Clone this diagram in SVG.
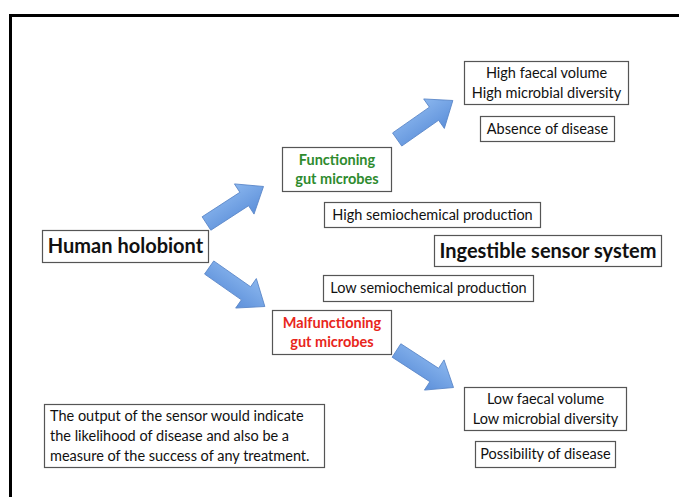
<svg xmlns="http://www.w3.org/2000/svg" width="679" height="497" viewBox="0 0 679 497">
<defs>
<linearGradient id="blue" x1="0" y1="0" x2="0" y2="1">
<stop offset="0" stop-color="#8ab6ee"/>
<stop offset="1" stop-color="#5d90da"/>
</linearGradient>
<path id="arr" d="M-34,-8 L11,-8 L11,-18 L34,0 L11,18 L11,8 L-34,8 Z"/>
</defs>
<style>
.box{fill:#fff;stroke:#555;stroke-width:1.2}
.t{font-family:Lato,"Open Sans","Liberation Sans",sans-serif;font-size:14.5px;fill:#111;text-anchor:middle}
.b{font-weight:bold;font-size:20px}
.g{font-weight:bold;fill:#2e8b2e;font-size:14.5px}
.r{font-weight:bold;fill:#e8261c;font-size:14.5px}
.l{text-anchor:start}
.a{fill:url(#blue);stroke:#5a86c8;stroke-width:0.8}
</style>
<rect width="679" height="497" fill="#fff"/>
<path d="M10.5,497 V15.5 H679" fill="none" stroke="#000" stroke-width="3"/>
<g id="connectors">
<use href="#arr" class="a" transform="translate(235,205) rotate(-33)"/>
<use href="#arr" class="a" transform="translate(425,120) rotate(-35)"/>
<use href="#arr" class="a" transform="translate(237,287) rotate(35)"/>
<use href="#arr" class="a" transform="translate(425,369) rotate(33)"/>
</g>
<g id="holobiont"><rect class="box" x="42.5" y="230.5" width="166" height="32"/><text class="t b" x="125.5" y="253">Human holobiont</text></g>
<g id="functioning"><rect class="box" x="282.5" y="147.5" width="109" height="44"/><text class="t g" x="337" y="165">Functioning</text><text class="t g" x="337" y="184">gut microbes</text></g>
<g id="high-faecal"><rect class="box" x="464.5" y="61.5" width="164" height="43"/><text class="t" x="546.5" y="78">High faecal volume</text><text class="t" x="546.5" y="98">High microbial diversity</text></g>
<g id="absence"><rect class="box" x="480.5" y="116.5" width="134" height="25"/><text class="t" x="547.5" y="134">Absence of disease</text></g>
<g id="high-semio"><rect class="box" x="324.5" y="202.5" width="216" height="25"/><text class="t" x="432.5" y="220">High semiochemical production</text></g>
<g id="sensor"><rect class="box" x="434.5" y="235.5" width="227" height="31"/><text class="t b" x="548" y="258">Ingestible sensor system</text></g>
<g id="low-semio"><rect class="box" x="323.5" y="275.5" width="210" height="26"/><text class="t" x="428.5" y="293">Low semiochemical production</text></g>
<g id="malfunctioning"><rect class="box" x="272.5" y="310.5" width="119" height="44"/><text class="t r" x="332" y="328">Malfunctioning</text><text class="t r" x="332" y="347">gut microbes</text></g>
<g id="low-faecal"><rect class="box" x="464.5" y="387.5" width="162" height="43"/><text class="t" x="545.5" y="404">Low faecal volume</text><text class="t" x="545.5" y="424">Low microbial diversity</text></g>
<g id="possibility"><rect class="box" x="475.5" y="441.5" width="140" height="26"/><text class="t" x="545.5" y="459">Possibility of disease</text></g>
<g id="note"><rect class="box" x="44.5" y="404.5" width="280" height="63"/>
<text class="t l" x="50" y="421">The output of the sensor would indicate</text>
<text class="t l" x="50" y="441">the likelihood of disease and also be a</text>
<text class="t l" x="50" y="461">measure of the success of any treatment.</text></g>
</svg>
